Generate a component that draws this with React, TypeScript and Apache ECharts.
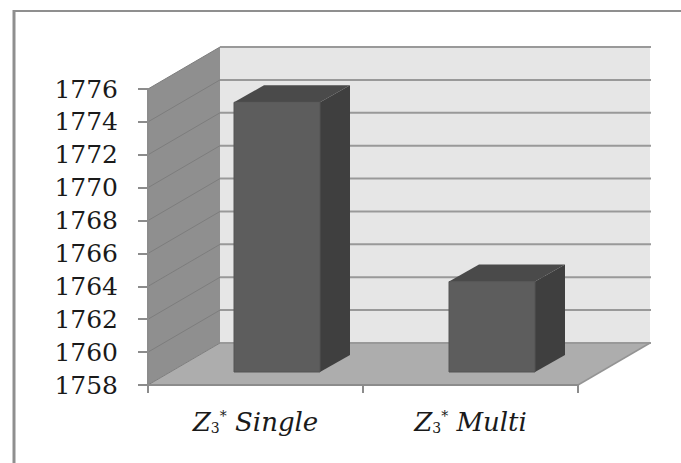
import React, { useEffect, useRef } from "react";
import * as echarts from "echarts";

const categories = ["Single", "Multi"];
const barValues = [1774.4, 1763.5];
const yTicks = [1758, 1760, 1762, 1764, 1766, 1768, 1770, 1772, 1774, 1776];

const yMin = 1758;
const yMax = 1776;

// Depth offsets of the pseudo 3D box, in pixels
const wallDx = 72;
const wallDy = -42;
const barInsetDx = 21.5;
const barInsetDy = -13;
const barDx = 30;
const barDy = -17;
const barShare = 86 / 215;

const poly = (points: number[][], fill: string, stroke?: string, lineWidth = 1) => ({
  type: "polygon",
  shape: { points },
  style: { fill, stroke: stroke ?? "none", lineWidth },
});

const seg = (a: number[], b: number[], stroke: string, lineWidth: number) => ({
  type: "line",
  shape: { x1: a[0], y1: a[1], x2: b[0], y2: b[1] },
  style: { stroke, lineWidth, fill: "none" },
});

function renderWalls(_params: any, api: any) {
  const x0 = api.coord([0, yMin])[0] - api.size([1, 0])[0] / 2;
  const x1 = x0 + api.size([1, 0])[0] * categories.length;
  const yBottom = api.coord([0, yMin])[1];
  const yTop = api.coord([0, yMax])[1];
  const children: any[] = [
    poly(
      [[x0 + wallDx, yTop + wallDy], [x1 + wallDx, yTop + wallDy], [x1 + wallDx, yBottom + wallDy], [x0 + wallDx, yBottom + wallDy]],
      "#e6e6e6"
    ),
    poly(
      [[x0, yTop], [x0 + wallDx, yTop + wallDy], [x0 + wallDx, yBottom + wallDy], [x0, yBottom]],
      "#8f8f8f"
    ),
    poly(
      [[x0, yBottom], [x0 + wallDx, yBottom + wallDy], [x1 + wallDx, yBottom + wallDy], [x1, yBottom]],
      "#adadad"
    ),
  ];
  yTicks.forEach((t) => {
    const y = api.coord([0, t])[1];
    children.push(seg([x0, y], [x0 + wallDx, y + wallDy], "#7d7d7d", 1));
    children.push(seg([x0 + wallDx, y + wallDy], [x1 + wallDx + 1, y + wallDy], "#999999", 2));
  });
  children.push(seg([x1, yBottom], [x1 + wallDx, yBottom + wallDy], "#949494", 1.5));
  return { type: "group", children };
}

function renderBar(_params: any, api: any) {
  const idx = api.value(0);
  const [cx, top] = api.coord([idx, api.value(1)]);
  const bottom = api.coord([idx, yMin])[1];
  const w = api.size([1, 0])[0] * barShare;
  const l = cx - w / 2 + barInsetDx;
  const r = l + w;
  const t = top + barInsetDy;
  const b = bottom + barInsetDy;
  return {
    type: "group",
    children: [
      poly([[l, t], [r, t], [r + barDx, t + barDy], [l + barDx, t + barDy]], "#4a4a4a"),
      poly([[r, t], [r + barDx, t + barDy], [r + barDx, b + barDy], [r, b]], "#3f3f3f"),
      poly([[l, t], [r, t], [r, b], [l, b]], "#5d5d5d", "#555555", 1),
    ],
  };
}

export default function App() {
  const ref = useRef<HTMLDivElement>(null);

  useEffect(() => {
    document.body.style.margin = "0";
    const chart = echarts.init(ref.current!, undefined, { renderer: "svg" });
    chart.setOption({
      animation: false,
      backgroundColor: "#ffffff",
      grid: { left: 148, right: 103, top: 89, bottom: 78 },
      xAxis: {
        type: "category",
        data: categories,
        z: 5,
        axisLine: { lineStyle: { color: "#8c8c8c", width: 2 } },
        axisTick: { show: true, length: 8, lineStyle: { color: "#8c8c8c", width: 2 } },
        axisLabel: {
          margin: 24,
          formatter: (v: string) => `{z|Z}{sub|3}{sup|*}{t| ${v}}`,
          rich: {
            z: { fontFamily: "DejaVu Serif", fontStyle: "italic", fontSize: 26, color: "#1a1a1a" },
            sub: { fontFamily: "DejaVu Serif", fontSize: 14, color: "#1a1a1a", verticalAlign: "bottom", lineHeight: 26, padding: [10, 0, 0, 0] },
            sup: { fontFamily: "DejaVu Serif", fontSize: 14, color: "#1a1a1a", verticalAlign: "top", lineHeight: 26, padding: [0, 0, 10, 0] },
            t: { fontFamily: "DejaVu Serif", fontStyle: "italic", fontSize: 26, color: "#1a1a1a" },
          },
        },
      },
      yAxis: {
        type: "value",
        min: yMin,
        max: yMax,
        interval: 2,
        z: 5,
        splitLine: { show: false },
        axisLine: { show: true, lineStyle: { color: "#8c8c8c", width: 2 } },
        axisTick: { show: true, length: 10, lineStyle: { color: "#8c8c8c", width: 2 } },
        axisLabel: {
          margin: 30,
          formatter: (v: number) => String(v),
          fontFamily: "DejaVu Serif",
          fontSize: 25,
          color: "#1a1a1a",
        },
      },
      series: [
        { type: "custom", silent: true, data: [[0, yMin]], encode: { x: 0, y: 1 }, renderItem: renderWalls, z: 1 },
        {
          type: "custom",
          silent: true,
          data: barValues.map((v, i) => [i, v]),
          encode: { x: 0, y: 1 },
          renderItem: renderBar,
          z: 2,
        },
      ],
      graphic: [
        {
          type: "line",
          silent: true,
          shape: { x1: 14, y1: 11, x2: 681, y2: 11 },
          style: { stroke: "#8f8f8f", lineWidth: 2 },
        },
        {
          type: "line",
          silent: true,
          shape: { x1: 14, y1: 10, x2: 14, y2: 463 },
          style: { stroke: "#8f8f8f", lineWidth: 3 },
        },
      ],
    });
    return () => chart.dispose();
  }, []);

  return <div ref={ref} style={{ width: 681, height: 463 }} />;
}
